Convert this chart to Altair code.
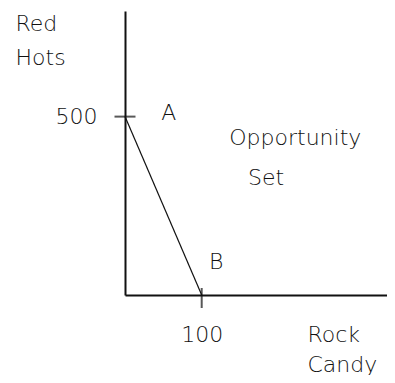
import altair as alt
import pandas as pd

# Opportunity set line (Rock Candy, Red Hots)
candy = [0, 100]
hots = [500, 0]

# annotation labels
ann_text = ["A", "Opportunity", "Set", "B"]
ann_candy = [57, 222, 184, 119]
ann_hots = [510, 441, 329, 92]

FONT = "DejaVu Sans"
FS = 22
INK = "#111111"

line_df = pd.DataFrame({"candy": candy, "hots": hots})
ann_df = pd.DataFrame({"label": ann_text, "candy": ann_candy, "hots": ann_hots})
ytick_df = pd.DataFrame({"candy": [0], "hots": [500]})
xtick_df = pd.DataFrame({"candy": [100], "hots": [0]})

xs = alt.Scale(domain=[0, 341.6], nice=False, zero=False)
ys = alt.Scale(domain=[0, 796], nice=False, zero=False)

xaxis = alt.Axis(
    values=[100], grid=False, ticks=False, domainColor=INK, domainWidth=2,
    labelFont=FONT, labelFontSize=FS, labelColor=INK, labelBaseline="middle",
    labelPadding=39, labelFontWeight=200,
    title=["Rock", "Candy"], titleFont=FONT, titleFontSize=FS, titleFontWeight=200,
    titleColor=INK, titleAlign="left", titleBaseline="alphabetic", titleAnchor="start",
    titleX=182, titleY=46, titleLineHeight=30, titleAngle=0,
)
yaxis = alt.Axis(
    values=[500], grid=False, ticks=False, domainColor=INK, domainWidth=2,
    labelFont=FONT, labelFontSize=FS, labelColor=INK, labelBaseline="middle",
    labelPadding=28, labelFontWeight=200,
    title=["Red", "Hots"], titleFont=FONT, titleFontSize=FS, titleFontWeight=200,
    titleColor=INK, titleAlign="left", titleBaseline="alphabetic", titleAngle=0,
    titleX=-110, titleY=19, titleLineHeight=34,
)

line = alt.Chart(line_df).mark_line(color=INK, strokeWidth=1.2).encode(
    x=alt.X("candy:Q", scale=xs, axis=xaxis),
    y=alt.Y("hots:Q", scale=ys, axis=yaxis),
)

ytick = alt.Chart(ytick_df).mark_tick(orient="horizontal", size=21, thickness=2, color=INK).encode(
    x=alt.X("candy:Q", scale=xs), y=alt.Y("hots:Q", scale=ys)
)
xtick = alt.Chart(xtick_df).mark_tick(orient="vertical", size=20, thickness=2, color=INK, yOffset=3).encode(
    x=alt.X("candy:Q", scale=xs), y=alt.Y("hots:Q", scale=ys)
)

ann = alt.Chart(ann_df).mark_text(
    font=FONT, fontSize=FS, fontWeight=200, color=INK, align="center", baseline="middle"
).encode(
    x=alt.X("candy:Q", scale=xs), y=alt.Y("hots:Q", scale=ys), text="label:N"
)

chart = alt.layer(line, ytick, xtick, ann).properties(
    width=262, height=284,
    background="white",
    autosize=alt.AutoSizeParams(type="none"),
    padding={"left": 117, "top": 3, "right": 0, "bottom": 80},
).configure_view(strokeWidth=0, stroke="transparent")

chart.save("out.html", embed_options={"renderer": "svg", "actions": False})
